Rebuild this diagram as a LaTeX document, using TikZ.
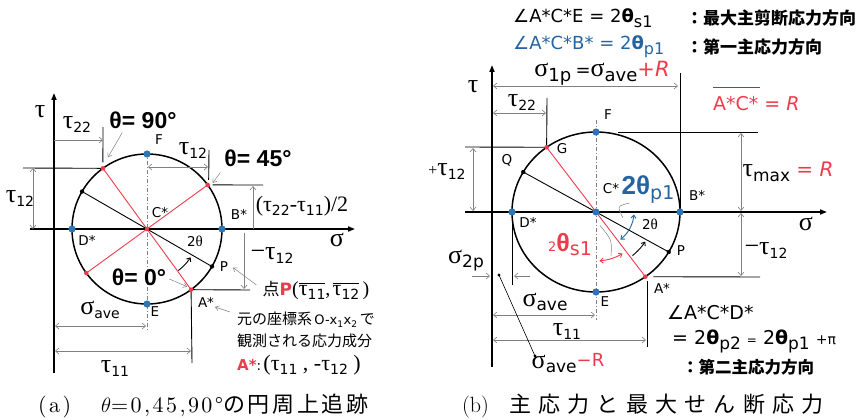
\documentclass[tikz,border=0pt]{standalone}
\usepackage{fontspec}
\setsansfont{DejaVu Sans}
\newfontfamily\lsans{Liberation Sans}
\newfontfamily\grk{Liberation Serif}
\newfontfamily\dv{DejaVu Sans}
\newfontfamily\jp{Noto Sans CJK JP}
\newfontfamily\jpA[LetterSpace=12]{Noto Sans CJK JP}
\newfontfamily\jpB[LetterSpace=33]{Noto Sans CJK JP}
\newfontfamily\lmsp[LetterSpace=11,Extension=.otf]{lmroman10-regular}
\usetikzlibrary{arrows.meta,calc}
\definecolor{rd}{RGB}{236,60,76}
\definecolor{bl}{RGB}{38,100,160}
\definecolor{bdc}{RGB}{46,117,182}
\definecolor{gry}{RGB}{128,128,128}
\newcommand\fs[1]{\fontsize{#1}{#1}\selectfont}
\newcommand\Gk[1]{{\grk\fs{26}#1}}
\newcommand\sbs[1]{\raisebox{-4pt}{\sffamily\fs{14}#1}}
\newcommand\ovl[1]{$\overline{\hbox{#1}}$}
\begin{document}
\begin{tikzpicture}[x=1pt,y=-1pt,
  every node/.style={inner sep=0pt,font=\sffamily\fs{13.5}},
  axisarrow/.style={line width=1.6pt,-{Triangle[length=7pt,width=5pt]}},
  circ/.style={line width=1.5pt},
  extl/.style={line width=0.9pt},
  dimB/.style={draw=gry,line width=0.6pt,{Straight Barb[length=3.5pt,width=6pt]}-{Straight Barb[length=3.5pt,width=6pt]}},
  dimR/.style={draw=gry,line width=0.6pt,-{Straight Barb[length=3.5pt,width=6pt]}},
  lead/.style={draw=gry,line width=0.5pt,-{Straight Barb[length=3.5pt,width=5pt]}},
  redl/.style={draw=rd,line width=0.9pt},
  dashc/.style={draw=gry,line width=0.5pt,dash pattern=on 4pt off 2pt on 1pt off 2pt},
  thl/.style={font=\lsans\bfseries\fs{23}}]
\useasboundingbox (0,0) rectangle (860,420);
% ================= LEFT =================
\coordinate (CL) at (147,229);
\coordinate (AL) at ($(CL)+(54:75)$);
\coordinate (GL) at ($(CL)+(234:75)$);
\coordinate (HL) at ($(CL)+(-36:75)$);
\coordinate (HL2) at ($(CL)+(144:75)$);
\coordinate (PL) at ($(CL)+(30:75)$);
\coordinate (QL) at ($(CL)+(210:75)$);
\coordinate (DL) at (72,229);
\coordinate (BL) at (222,229);
\coordinate (FL) at (147,154);
\coordinate (EL) at (147,304);
\coordinate (tLb) at (54,373);
\coordinate (tLt) at (54,93);
\coordinate (sLl) at (30,229);
\coordinate (sLr) at (355,229);
\draw[axisarrow] (tLb) -- (tLt);
\draw[axisarrow] (sLl) -- (sLr);
\draw[dashc] (147,152) -- (147,330);
\draw[circ] (CL) circle[radius=75];
\draw[redl] (GL) -- (AL);
\draw[redl] (HL) -- (HL2);
\draw[line width=0.9pt] (QL) -- (PL);
% extension lines
\draw[extl] (GL) -- (23,168);
\draw[extl] ($(GL)+(0,-6)$) -- (103,127);
\draw[extl] ($(HL)+(1,-5)$) -- (209,150);
\draw[extl] ($(HL)+(5,0)$) -- (263,185);
\draw[extl] (AL) -- (250,290);
\draw[extl] (AL) -- (192,363);
% dimensions
\draw[dimR] (54,140) -- (103,140);
\draw[dimB] (33,168) -- (33,229);
\draw[dimB] (148,167) -- (208,167);
\draw[dimR] (253,229) -- (253,186);
\draw[dimR] (244,233) -- (244,289);
\draw[dimB] (55,326) -- (146,326);
\draw[dimB] (55,351) -- (191,351);
% 2theta arc
\draw[line width=0.9pt,-{Straight Barb[length=3pt,width=5pt]}] plot[domain=53:33,samples=15] ({147+52*cos(\x)},{229+52*sin(\x)});
% dots
\foreach \p in {GL,AL,HL,HL2,CL} \fill[rd] (\p) circle[radius=2.3];
\foreach \p in {PL,QL} \fill (\p) circle[radius=2.2];
\foreach \p in {DL,BL,FL,EL} \fill[bdc] (\p) circle[radius=3.6];
% labels
\node (tauL) at (40,112) {\Gk{τ}};
\node (sigL) at (337,240) {\Gk{σ}};
\node (t22L) at (77,125) {\Gk{τ}\sbs{22}};
\node (t12L) at (20,199) {\Gk{τ}\sbs{12}};
\node (t12T) at (193,151) {\Gk{τ}\sbs{12}};
\node[thl] (th90) at (143,120) {θ= 90°};
\node[thl] (th45) at (258,158) {θ= 45°};
\node[thl] (th0) at (139,277) {θ= 0°};
\node (lFL) at (159,140) {F};
\node (lCL) at (160,213) {C*};
\node (lDL) at (87,240) {D*};
\node (lBL) at (239,214) {B*};
\node (l2tL) at (195,241) {2{\grk\fs{15}θ}};
\node (lPL) at (224,267) {P};
\node (lAL) at (206,302) {A*};
\node (lEL) at (155,312) {E};
\node (hdiff) at (302,206) {\grk\fs{22}(τ\sbs{22}-τ\sbs{11})/2};
\node (mt12L) at (272,256) {\Gk{−τ}\sbs{12}};
\node (ptP) at (316,290) {{\jp\fs{17}点}{\color{rd}\bfseries\fs{17}P}{\grk\fs{20}(}\ovl{\Gk{\fs{22}τ}\sbs{11}}{\grk\fs{20},}\,\ovl{\Gk{\fs{22}τ}\sbs{12}}{\grk\fs{20}\,)}};
\node (sgaL) at (100,310) {\Gk{σ}\sbs{ave}};
\node (t11L) at (115,369) {\Gk{τ}\sbs{11}};
\node[anchor=west] (an1) at (237,320) {{\jp\fs{15}元の座標系}\,{\fs{13}O-x\textsubscript{1}x\textsubscript{2}}\,{\jp\fs{15}で}};
\node[anchor=west] (an2) at (237,341) {\jp\fs{15}観測される応力成分};
\node[anchor=west] (an3) at (237,365) {{\color{rd}\bfseries\fs{15}A*}:\,{\grk\fs{22}(τ\sbs{11} , -τ\sbs{12} )}};
% leaders
\draw[lead] ($(th90.south west)+(13,4)$) -- ($(GL)+(5,-11)$);
\draw[lead] ($(th45.south west)+(-4,6)$) -- ($(HL)+(5,-2)$);
\draw[lead] ($(th0.east)+(3,2)$) -- ($(AL)+(-4,-3)$);
\draw[lead] ($(ptP.west)+(-6,-5)$) -- ($(PL)+(21,1)$);
\draw[lead] ($(an1.west)+(-7,-8)$) -- ($(lAL)+(9,5)$);
\node[anchor=base west] (capA) at (38,412) {{\lmsp\fs{22}(a)}\hspace{30pt}{\fs{22}$\theta$}{\lmsp\fs{22}=0,45,90°}{\jpA\fs{22}の円周上追跡}};
% ================= RIGHT =================
\coordinate (CR) at (596,212);
\coordinate (AR) at ($(CR)+({84*cos(54)},{80*sin(54)})$);
\coordinate (GR) at ($(CR)+({84*cos(234)},{80*sin(234)})$);
\coordinate (PR) at ($(CR)+({84*cos(30)},{80*sin(30)})$);
\coordinate (QR) at ($(CR)+({84*cos(210)},{80*sin(210)})$);
\coordinate (DR) at (512,212);
\coordinate (BR) at (680,212);
\coordinate (FR) at (596,132);
\coordinate (ER) at (596,292);
\coordinate (tRb) at (492,367);
\coordinate (tRt) at (492,65);
\coordinate (sRl) at (465,212);
\coordinate (sRr) at (827,212);
\draw[axisarrow] (tRb) -- (tRt);
\draw[axisarrow] (sRl) -- (sRr);
\draw[dashc] (596,120) -- (596,320);
\draw[circ] (CR) ellipse[x radius=84,y radius=80];
\draw[redl] (GR) -- (AR);
\draw[line width=0.9pt] (QR) -- (PR);
% extension lines
\draw[extl] (GR) -- (465,147);
\draw[extl] (GR) -- (547,98);
\draw[extl] (BR) -- (680,73);
\draw[extl] (618,132) -- (758,132);
\draw[extl] ($(AR)+(8,0)$) -- (760,277);
\draw[extl] (647,281) -- (647,347);
\draw[extl] (DR) -- (512,285);
% dimensions
\draw[dimB] (473,148) -- (473,211);
\draw[dimB] (493,113) -- (546,113);
\draw[dimB] (493,86) -- (678,86);
\draw[dimB] (741,133) -- (741,211);
\draw[dimB] (741,213) -- (741,276);
\draw[dimB] (493,315) -- (595,315);
\draw[dimB] (493,340) -- (646,340);
\draw[dimR] (472,276) -- (490,276);
\draw[dimR] (530,276) -- (514,276);
% sigma_ave - R leader
\coordinate (lr1) at (499,275);
\coordinate (lr2) at (535,356);
\draw[line width=0.6pt] (lr1) -- (lr2);
\fill (lr1) circle[radius=1.6];
\fill (lr2) circle[radius=1.6];
% arcs
\draw[line width=0.9pt,-{Straight Barb[length=3pt,width=5pt]}] plot[domain=51:32,samples=15] ({596+58*cos(\x)},{212+56*sin(\x)});
\draw[bl,line width=0.9pt,{Straight Barb[length=3pt,width=5pt]}-{Straight Barb[length=3pt,width=5pt]}] plot[domain=4:50,samples=20] ({596+38*cos(\x)},{212+36*sin(\x)});
\draw[rd,line width=0.9pt,{Straight Barb[length=3pt,width=5pt]}-{Straight Barb[length=3pt,width=5pt]}] plot[domain=86:58,samples=15] ({596+50*cos(\x)},{212+49*sin(\x)});
% dots
\foreach \p in {GR,AR} \fill[rd] (\p) circle[radius=2.3];
\foreach \p in {PR,QR} \fill (\p) circle[radius=2.2];
\foreach \p in {DR,BR,FR,ER,CR} \fill[bdc] (\p) circle[radius=3.6];
% labels
\node (tauR) at (473,87) {\Gk{τ}};
\node (sigR) at (806,224) {\Gk{σ}};
\node (t22R) at (522,103) {\Gk{τ}\sbs{22}};
\node (t12R) at (447,172) {{\grk\fs{16}+}\Gk{τ}\sbs{12}};
\node (lFR) at (608,115) {F};
\node (lGR) at (562,149) {G};
\node (lQR) at (507,160) {Q};
\node (lCR) at (611,189) {C*};
\node (lDR) at (528,222) {D*};
\node (lBR) at (697,195) {B*};
\node (lPR) at (681,251) {P};
\node (lAR) at (662,288) {A*};
\node (lER) at (605,302) {E};
\node (l2tR) at (650,224) {2{\grk\fs{15}θ}};
\node[text=bl] (l2p1) at (648,190) {{\lsans\bfseries\fs{26}2θ}\raisebox{-5pt}{\fs{19}p1}};
\node[text=rd] (l2s1) at (570,245) {{\fs{13}2}{\lsans\bfseries\fs{25}θ}\raisebox{-4pt}{\fs{19}s1}};
\draw[gry,line width=0.5pt] ($(l2p1.south west)+(8,-1)$) .. controls (617,206) .. (623,218);
\draw[gry,line width=0.5pt] ($(l2s1.north east)+(8,-8)$) .. controls (612,240) .. (611,256);
\node (s1p) at (602,73) {\Gk{σ}\raisebox{-5pt}{\fs{18}1p} {\fs{18}=}\Gk{σ}\raisebox{-5pt}{\fs{18}ave}{\color{rd}\fs{21}+\textit{R}}};
\node[anchor=west,text=rd] (acR) at (713,104) {\fs{19}A*C* = \textit{R}};
\draw[bl,line width=0.8pt] ($(acR.west)+(0,-17)$) -- ++(47,0);
\node (tmax) at (788,172) {\Gk{τ}\raisebox{-5pt}{\fs{17}max}{\color{rd}\fs{20} = \textit{R}}};
\node (mt12R) at (766,251) {\Gk{−τ}\sbs{12}};
\node (s2p) at (466,261) {\Gk{σ}\raisebox{-4pt}{\fs{17}2p}};
\node (sgaR) at (545,302) {\Gk{σ}\raisebox{-4pt}{\fs{17}ave}};
\node (t11R) at (567,332) {\Gk{τ}\sbs{11}};
\node (sgmR) at (568,363) {\Gk{σ}\raisebox{-4pt}{\fs{17}ave}{\color{rd}\fs{18}\raisebox{2pt}{−R}}};
\node[anchor=west] (angD) at (667,313) {\fs{19}{\dv ∠}A*C*D*};
\node[anchor=west] (angD2) at (672,341) {\fs{19}= 2{\bfseries θ}\raisebox{-5pt}{\fs{17}p2} {\fs{12}=} 2{\bfseries θ}\raisebox{-5pt}{\fs{17}p1} {\fs{14}+π}};
\node[anchor=west] (angD3) at (682,367) {\jp\bfseries\fs{16.5}：第二主応力方向};
\node[anchor=west] (top1) at (513,18) {\fs{18}{\dv ∠}A*C*E = 2{\bfseries θ}\raisebox{-5pt}{\fs{16}s1}};
\node[anchor=west] (top1j) at (686,18) {\jp\bfseries\fs{17}：最大主剪断応力方向};
\node[anchor=west,text=bl] (top2) at (513,47) {\fs{18}{\dv ∠}A*C*B* = 2{\bfseries θ}\raisebox{-5pt}{\fs{16}p1}};
\node[anchor=west] (top2j) at (686,47) {\jp\bfseries\fs{17}：第一主応力方向};
\node[anchor=base west] (capB) at (462,412) {\rmfamily\fs{22}(b)\hspace{20pt}{\jpB\fs{22}主応力と最大せん断応力}};
\end{tikzpicture}
\end{document}
